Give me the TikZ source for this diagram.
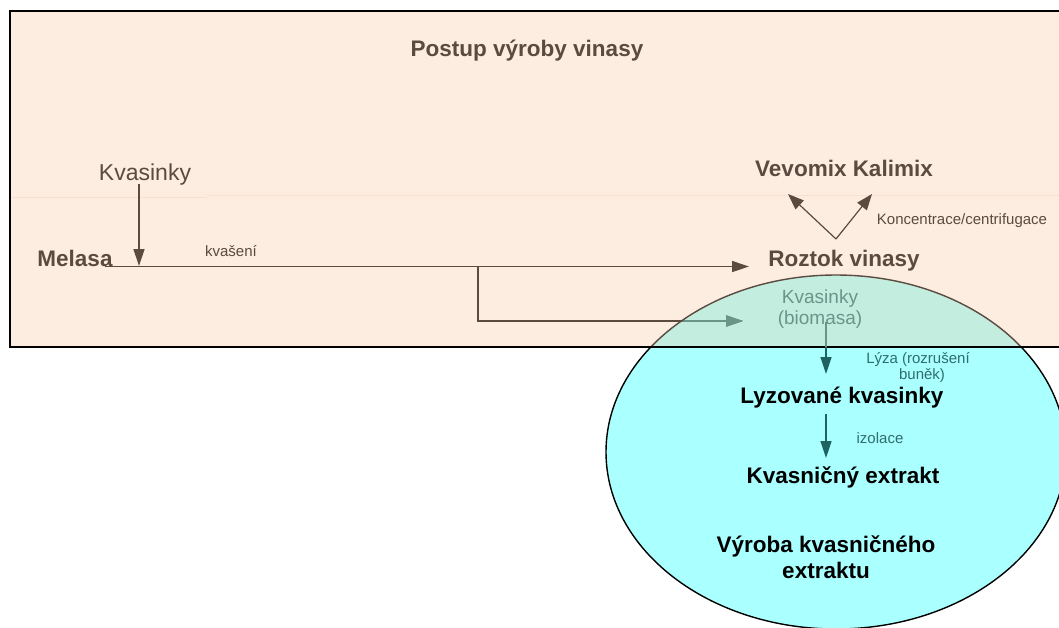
\documentclass[tikz,border=0pt]{standalone}
\usepackage{fontspec}
\setmainfont{Liberation Sans}
\usetikzlibrary{arrows.meta}
\definecolor{peach}{HTML}{FDECE0}
\definecolor{peachline}{HTML}{F6E0D0}
\definecolor{browntext}{HTML}{5A4A40}
\definecolor{mint}{HTML}{C2EDDF}
\definecolor{cyanfill}{HTML}{AAFFFF}
\definecolor{grayteal}{HTML}{6A968A}
\definecolor{darkteal}{HTML}{1E6262}
\definecolor{labelteal}{HTML}{2E6E6E}
\tikzset{
  boldtxt/.style={inner sep=0pt, anchor=base, font=\fontsize{22.5}{26}\selectfont\bfseries},
  smalltxt/.style={inner sep=0pt, anchor=base, font=\fontsize{15}{18}\selectfont},
  brownarrow/.style={draw=browntext, line width=1.3pt, -{Triangle[length=17pt,width=11pt]}},
  tealarrow/.style={draw=darkteal, line width=1.3pt, -{Triangle[length=17pt,width=11pt]}},
}
\begin{document}
\begin{tikzpicture}[x=1pt,y=-1pt]
\useasboundingbox (0,0) rectangle (1059,627);
% peach box
\fill[peach] (10,11) rectangle (1075,347);
\draw[peachline, line width=0.8pt] (10,197) -- (207,197);
\draw[peachline, line width=0.8pt] (207,195) -- (1075,195);
% ellipse, part below box
\begin{scope}
  \clip (0,347) rectangle (1100,700);
  \filldraw[fill=cyanfill, draw=black, line width=1.4pt] (836,452) ellipse [x radius=230, y radius=177];
\end{scope}
% ellipse, part inside box
\begin{scope}
  \clip (0,0) rectangle (1100,347);
  \filldraw[fill=mint, draw=browntext, line width=1.4pt] (836,452) ellipse [x radius=230, y radius=177];
\end{scope}
% box border
\draw[black, line width=1.8pt] (1075,11) -- (10,11) -- (10,347) -- (1075,347);

% texts
\node[boldtxt, text=browntext] (title) at (527,56) {Postup výroby vinasy};
\node[inner sep=0pt, anchor=base, font=\fontsize{23}{26}\selectfont, text=browntext] (kv) at (145,180) {Kvasinky};
\node[boldtxt, text=browntext] (melasa) at (75,266) {Melasa};
\node[smalltxt, text=browntext] (kvaseni) at (231,256) {kvašení};
\node[boldtxt, text=browntext] (vevomix) at (844,176) {Vevomix Kalimix};
\node[smalltxt, text=browntext] (konc) at (962,224) {Koncentrace/centrifugace};
\node[boldtxt, text=browntext] (roztok) at (844,266) {Roztok vinasy};
\node[inner sep=0pt, anchor=base, align=center, font=\fontsize{19}{21}\selectfont, text=grayteal] (biomasa) at (820,324) {Kvasinky\\(biomasa)};
\node[smalltxt, align=center, text=labelteal, font=\fontsize{15}{16}\selectfont] (lyza) at (918,379) {Lýza (rozrušení\\ \hspace*{8pt}buněk)};
\node[boldtxt, text=black] (lyzovane) at (842,403) {Lyzované kvasinky};
\node[smalltxt, text=labelteal] (izolace) at (880,443) {izolace};
\node[boldtxt, text=black] (extrakt) at (843,483) {Kvasničný extrakt};
\node[boldtxt, text=black, align=center, font=\fontsize{22.5}{26}\selectfont\bfseries] (vyroba) at (826,578) {Výroba kvasničného\\extraktu};

% coordinates
\coordinate (kvtop) at (139,184);
\coordinate (kvtip) at (139,266);
\coordinate (mstart) at (105,266.5);
\coordinate (mtip) at (749,266.5);
\coordinate (branch) at (478,266.5);
\coordinate (bcorner) at (478,321);
\coordinate (btip) at (743,321);
\coordinate (apex) at (836,239);
\coordinate (vtipl) at (788,194);
\coordinate (vtipr) at (872,194);
\coordinate (a1top) at (826,322);
\coordinate (a1tip) at (826,374);
\coordinate (a2top) at (826,414);
\coordinate (a2tip) at (826,458);

% connectors
\draw[brownarrow] (kvtop) -- (kvtip);
\draw[brownarrow] (mstart) -- (mtip);
\draw[brownarrow] (branch) -- (bcorner) -- (btip);
\begin{scope}
  \clip (836,452) ellipse [x radius=229, y radius=176];
  \draw[brownarrow, draw=grayteal] (branch) -- (bcorner) -- (btip);
\end{scope}
\draw[brownarrow, line width=1.2pt, -{Triangle[length=16pt,width=12pt]}] (apex) -- (vtipl);
\draw[brownarrow, line width=1.2pt, -{Triangle[length=16pt,width=12pt]}] (apex) -- (vtipr);
\draw[tealarrow] (a1top) -- (a1tip);
\begin{scope}
  \clip (0,0) rectangle (1100,346);
  \draw[draw=grayteal, line width=1.3pt] (a1top) -- (a1tip);
\end{scope}
\draw[tealarrow] (a2top) -- (a2tip);
\end{tikzpicture}
\end{document}
